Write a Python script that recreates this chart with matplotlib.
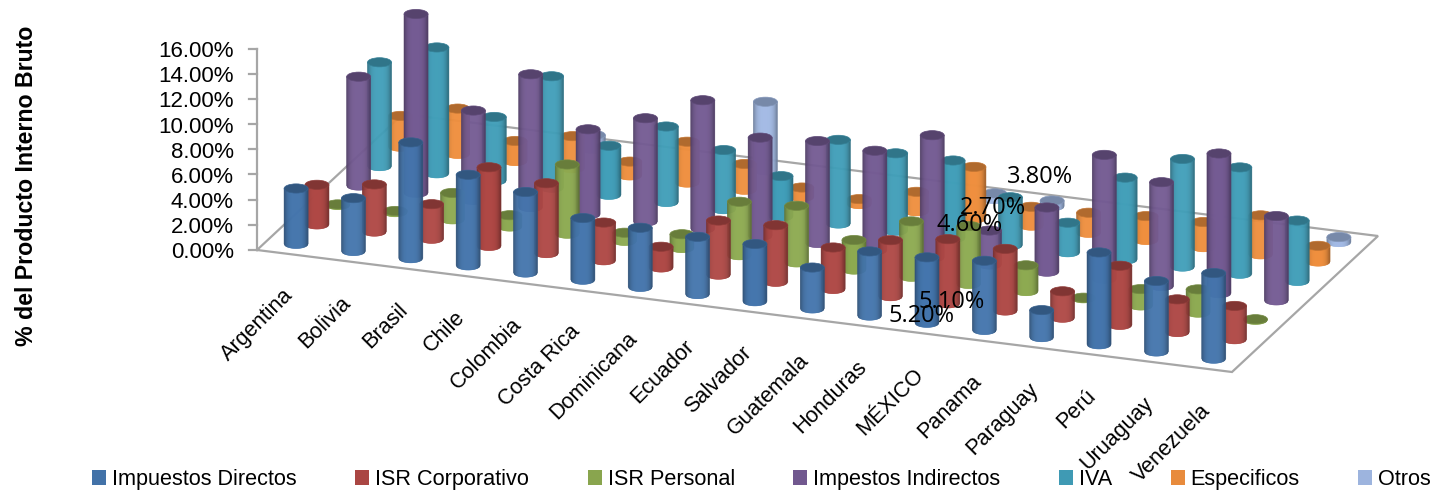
import numpy as np
import matplotlib
matplotlib.use("Agg")
import matplotlib.pyplot as plt
from matplotlib.collections import PolyCollection
from matplotlib.patches import Ellipse, Patch
from matplotlib.colors import to_rgb

paises = ["Argentina", "Bolivia", "Brasil", "Chile", "Colombia", "Costa Rica", "Dominicana",
          "Ecuador", "Salvador", "Guatemala", "Honduras", "MÉXICO", "Panama", "Paraguay",
          "Perú", "Uruaguay", "Venezuela"]
series = ["Impuestos Directos", "ISR Corporativo", "ISR Personal", "Impestos Indirectos",
          "IVA", "Especificos", "Otros"]

directos = [4.4, 4.2, 9.2, 7.2, 6.4, 4.9, 4.7, 4.55, 4.55, 3.25, 5.1, 5.2, 5.5, 2.15, 7.3, 5.6, 6.8]
corporativo = [3.15, 3.75, 2.75, 6.25, 5.55, 3.0, 1.65, 4.3, 4.5, 3.3, 4.45, 5.1, 4.9, 2.1, 4.7, 2.6, 2.65]
personal = [0.05, 0.1, 2.1, 0.9, 5.5, 0.65, 1.1, 4.25, 4.5, 2.35, 4.4, 4.6, 2.05, 0.05, 1.3, 1.85, 0.05]
indirectos = [8.65, 14.2, 7.1, 10.55, 6.75, 8.2, 10.2, 7.8, 8.1, 7.9, 9.7, 2.7, 5.1, 9.85, 8.25, 11.1, 6.7]
iva = [8.25, 10.0, 5.05, 8.85, 3.9, 6.0, 4.7, 3.2, 6.65, 6.15, 6.15, 3.8, 2.35, 6.5, 8.55, 8.45, 4.8]
especificos = [2.45, 3.6, 1.6, 2.55, 1.1, 3.25, 2.05, 0.75, 0.4, 1.55, 4.1, 1.5, 1.6, 1.9, 2.0, 3.1, 1.25]
otros = [None, None, None, 1.1, None, None, 5.45, None, None, None, 0.45, 0.45, None, None, None, None, 0.4]
valores = [directos, corporativo, personal, indirectos, iva, especificos, otros]
colores = ["#4272A8", "#AA4643", "#89A54E", "#71588F", "#3F9AB4", "#E88B3C", "#9DB4DE"]

yticks = [0, 2, 4, 6, 8, 10, 12, 14, 16]
etiquetas = {(0, 11): 5.20, (1, 11): 5.10, (2, 11): 4.60, (3, 11): 2.70, (4, 11): 3.80}
etiqueta_pos = {(0, 11): (922, 316), (1, 11): (952, 302), (2, 11): (970, 225),
                (3, 11): (993, 208), (4, 11): (1040, 177)}

plt.rcParams["font.family"] = ["Liberation Sans", "DejaVu Sans"]

fig = plt.figure(figsize=(14.33, 4.92), dpi=100)
ax = fig.add_axes([0, 0, 1, 1])
ax.set_xlim(0, 1433)
ax.set_ylim(492, 0)
ax.axis("off")

# oblique projection of the chart box onto the page
ORIG = np.array([257.0, 250.0])
EJE_U = np.array([975.0, 122.0])
EJE_V = np.array([146.0, -136.0])
PX_POR_UNIDAD = 12.59
nc, ns = len(paises), len(series)


def proy(u, v, z=0.0):
    p = ORIG + EJE_U * u + EJE_V * v
    return p[0], p[1] - z * PX_POR_UNIDAD


GRIS = "#A6A6A6"
esq = [proy(0, 0), proy(1, 0), proy(1, 1), proy(0, 1), proy(0, 0)]
ax.plot(*zip(*esq), color=GRIS, lw=1.6, zorder=1, solid_joinstyle="miter")
ax.plot(*zip(proy(0, 0), proy(0, 0, yticks[-1])), color=GRIS, lw=1.6, zorder=1)
for t in yticks:
    x, y = proy(0, 0, t)
    ax.plot([x - 8, x], [y, y], color=GRIS, lw=1.6, zorder=1)
    ax.text(x - 23, y + 3, f"{t:.2f}%", ha="right", va="center", fontsize=16, color="#000000")

RA, RB = 12.0, 4.6


def shade(c, f):
    return tuple(min(1, k * f) for k in to_rgb(c))


def cilindro(x, yb, yt, color, z):
    ts = np.linspace(-1, 1, 25)
    polys, cols = [], []
    for a, b in zip(ts[:-1], ts[1:]):
        m = (a + b) / 2
        polys.append([(x + a * RA, yt), (x + b * RA, yt),
                      (x + b * RA, yb + RB * np.sqrt(1 - b * b)),
                      (x + a * RA, yb + RB * np.sqrt(1 - a * a))])
        cols.append(shade(color, 1.03 - 0.36 * abs(m) ** 3.5))
    ax.add_collection(PolyCollection(polys, facecolors=cols, edgecolors=cols, linewidths=0.4, zorder=z))
    ax.add_patch(Ellipse((x, yt), 2 * RA, 2 * RB, facecolor=shade(color, 0.76),
                         edgecolor=shade(color, 0.84), lw=0.5, zorder=z + 0.5))


orden = []
for j, vals in enumerate(valores):
    for i, v in enumerate(vals):
        if v is None:
            continue
        x, yb = proy((i + 0.5) / nc, (j + 0.5) / ns)
        orden.append((yb, x, j, v))
orden.sort(key=lambda r: r[0])
for n, (yb, x, j, v) in enumerate(orden):
    cilindro(x, yb, yb - v * PX_POR_UNIDAD, colores[j], 2 + n)

for i, nombre in enumerate(paises):
    x, y = proy((i + 0.5) / nc, 0)
    ax.text(x + 4, y + 39, nombre, rotation=45, rotation_mode="anchor", ha="right", va="center",
            fontsize=15.6, zorder=1000)

for k, v in etiquetas.items():
    px, py = etiqueta_pos[k]
    ax.text(px, py, f"{v:.2f}%", ha="center", va="center", fontsize=17,
            family=["Open Sans", "DejaVu Sans"], zorder=1001)

ax.text(27, 186, "% del Producto Interno Bruto", rotation=90, ha="center", va="center",
        fontsize=16.7, fontweight="bold", zorder=1001)

fs = 15.6
px = fs * 100 / 72
h = [Patch(facecolor=c, edgecolor="none") for c in colores]
leg = ax.legend(h, series, ncols=7, frameon=False, fontsize=fs, loc="lower left",
                bbox_to_anchor=(92 / 1433, 2 / 492), borderaxespad=0, borderpad=0,
                handlelength=14 / px, handleheight=14 / px, handletextpad=6 / px,
                columnspacing=58.5 / px)
leg.set_zorder(1002)

fig.savefig("out.png", dpi=100)
